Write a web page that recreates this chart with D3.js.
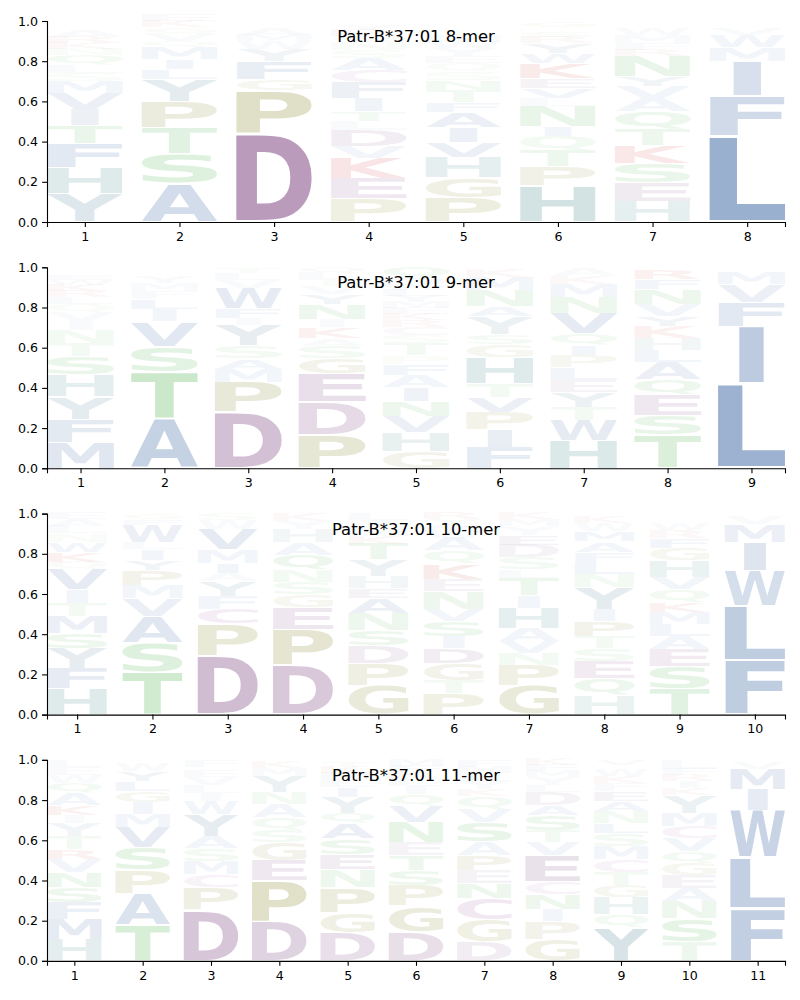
<!DOCTYPE html>
<html><head><meta charset="utf-8">
<script src="https://cdn.jsdelivr.net/npm/d3@7"></script>
<style>body{margin:0;background:#fff}svg{display:block}</style>
</head><body>
<svg id="chart" width="800" height="1000"></svg>
<script>
// ---- data: letters listed bottom-to-top per position, with heights ----
const titles = ["Patr-B*37:01 8-mer","Patr-B*37:01 9-mer","Patr-B*37:01 10-mer","Patr-B*37:01 11-mer"];
const yTicks = [0,0.2,0.4,0.6,0.8,1.0];

const letters8 = ["YHFTIVMSLQNKRAEWC","ASTPYLIMQVGKER","DPGFYWMASK","PEKVDLTIFCASNQRYM",
  "PGHVIAFTNSQEYWMKRDL","HPTQINLVEKWYRSAG","HESKTQAVYNRFMWGL","LFIMWVYA"];
const heights8 = [
  [.14,.13,.12,.09,.08,.08,.06,.04,.04,.05,.03,.03,.03,.03,.02,.02,.01],
  [.19,.15,.13,.13,.11,.05,.05,.06,.03,.04,.03,.03,.03,.02],
  [.44,.215,.055,.09,.06,.04,.03,.03,.02,.02],
  [.115,.10,.10,.06,.08,.045,.05,.065,.08,.06,.06,.04,.04,.03,.03,.025,.02],
  [.12,.10,.10,.075,.075,.075,.05,.06,.05,.045,.04,.035,.04,.03,.03,.02,.02,.015,.015],
  [.18,.095,.08,.07,.05,.10,.04,.05,.05,.075,.05,.05,.03,.03,.02,.03],
  [.10,.095,.095,.09,.08,.09,.065,.06,.05,.10,.03,.035,.04,.03,.02,.02],
  [.43,.20,.17,.07,.06,.03,.02,.02]];

const letters9 = ["MFYHSTNIVQLRKWEPG","ATSVILFMYPGQ","DPMASYIFWVLT","PDEGSAKINYVTLQ",
  "GHVNIAFPTSCRKEMYLWDQ","FIPVTHGSYANMKR","HWTYELPIQVNMKA","TSEQALHKYVNFRM","LIFVMYW"];
const heights9 = [
  [.13,.115,.11,.11,.09,.065,.065,.045,.045,.04,.035,.03,.03,.025,.025,.02,.02],
  [.245,.235,.125,.125,.06,.05,.04,.04,.03,.02,.015,.015],
  [.28,.15,.065,.05,.065,.10,.035,.05,.10,.04,.035,.03],
  [.165,.165,.14,.075,.065,.035,.055,.04,.075,.05,.04,.035,.03,.03],
  [.085,.095,.08,.075,.07,.06,.055,.04,.06,.04,.04,.035,.03,.03,.03,.03,.03,.025,.035,.055],
  [.105,.09,.085,.075,.065,.13,.065,.05,.09,.05,.08,.065,.04,.01],
  [.14,.10,.065,.075,.06,.06,.06,.05,.06,.10,.08,.065,.04,.04],
  [.165,.10,.10,.075,.085,.06,.06,.06,.05,.06,.075,.05,.05,.01],
  [.42,.285,.12,.09,.06,.015,.01]];

const letters10 = ["HFYSMTIVQKWNLAE","TSAVMPYILWFG","DPCFYAIMVWS","DPEGSNQAHYK",
  "GPDSNAEHYTKMIL","PTGDISVNEKQAWMYR","GPNVAHITLSDEYMK","HQESTPIYNLFAMWKR",
  "TSEALMKQVHGFRW","FLWIMVY"];
const heights10 = [
  [.13,.10,.10,.075,.085,.065,.065,.10,.04,.05,.05,.04,.04,.03,.03],
  [.21,.15,.13,.09,.065,.075,.05,.055,.03,.09,.025,.03],
  [.295,.155,.075,.065,.075,.04,.05,.065,.10,.045,.035],
  [.245,.18,.105,.065,.065,.06,.075,.06,.065,.04,.04],
  [.145,.11,.09,.075,.085,.075,.05,.06,.08,.08,.04,.04,.035,.035],
  [.105,.065,.085,.075,.06,.075,.06,.09,.06,.075,.065,.065,.03,.03,.03,.03],
  [.145,.10,.06,.06,.065,.10,.06,.09,.04,.06,.065,.05,.04,.035,.03],
  [.095,.085,.085,.065,.06,.075,.06,.11,.065,.06,.05,.05,.05,.04,.03,.02],
  [.13,.11,.085,.065,.06,.06,.05,.065,.06,.08,.065,.05,.04,.03],
  [.27,.27,.175,.14,.09,.04,.015]];

const letters11 = ["HMFSNVRTYIKAQWEL","TAPSVMIGLYWF","DPCMSAYWILVEGF","DPEGSQANYMKT",
  "DGPNESAQYILMKT","DGPSTENVQILKFM","DGCNEPASVQKYLMF","GPINCEVTSADLYMFK",
  "YQHGTCMSLNAEFKWRV","TSNAEGQVCMYKIRFL","FLWIMVY"];
const heights11 = [
  [.105,.10,.085,.075,.075,.065,.05,.065,.065,.04,.05,.06,.05,.04,.04,.035],
  [.18,.155,.115,.115,.10,.065,.06,.055,.05,.05,.04,.015],
  [.255,.11,.065,.065,.065,.06,.11,.065,.04,.04,.04,.03,.02,.035],
  [.195,.205,.10,.09,.06,.065,.065,.06,.08,.04,.03,.01],
  [.14,.10,.125,.09,.075,.08,.075,.05,.08,.05,.04,.03,.03,.03],
  [.145,.13,.10,.075,.075,.065,.10,.08,.06,.04,.04,.03,.03,.03],
  [.095,.11,.105,.075,.065,.075,.065,.10,.065,.065,.035,.04,.04,.03,.03],
  [.105,.09,.06,.075,.065,.13,.065,.06,.075,.05,.065,.035,.04,.03,.03,.03],
  [.165,.065,.085,.06,.065,.065,.065,.065,.05,.06,.05,.05,.04,.035,.035,.02,.025],
  [.095,.115,.085,.065,.065,.06,.06,.065,.06,.065,.09,.035,.035,.03,.03,.045],
  [.26,.255,.235,.105,.10,.03,.015]];

const panelLetters = [letters8, letters9, letters10, letters11];
const panelHeights = [heights8, heights9, heights10, heights11];

// ---- colours by residue group ----
const groupColor = {
  hydrophobic: "#3b66a3", acidic: "#7c4380", cys: "#964696", pg: "#87872a",
  polar: "#46af46", basic: "#cd2d2d", his: "#327e7e", tyr: "#386e8c"
};
const residueGroup = {A:"hydrophobic",I:"hydrophobic",L:"hydrophobic",M:"hydrophobic",F:"hydrophobic",
  W:"hydrophobic",V:"hydrophobic",D:"acidic",E:"acidic",C:"cys",P:"pg",G:"pg",S:"polar",T:"polar",
  N:"polar",Q:"polar",K:"basic",R:"basic",H:"his",Y:"tyr"};

// ---- layout ----
const left = 47, right = 785, axH = 201, firstTop = 21, step = 246.3;
const FONT = "'DejaVu Sans'";
const svg = d3.select("#chart");

// glyph ink metrics from canvas
const cv = document.createElement("canvas");
const ctx = cv.getContext("2d");
ctx.font = "bold 200px " + FONT;
ctx.textAlign = "left"; ctx.textBaseline = "alphabetic";
const metricCache = {};
function ink(ch){
  if (!metricCache[ch]) {
    const m = ctx.measureText(ch);
    metricCache[ch] = {l: -m.actualBoundingBoxLeft, r: m.actualBoundingBoxRight,
      asc: m.actualBoundingBoxAscent, desc: m.actualBoundingBoxDescent};
  }
  return metricCache[ch];
}
const Eink = ink("E");
const EW = Eink.r - Eink.l;

panelLetters.forEach((cols, p) => {
  const top = firstTop + p * step, bottom = top + axH;
  const L = cols.length;
  const x = d3.scaleLinear().domain([0.6, L + 0.4]).range([left, right]);
  const y = d3.scaleLinear().domain([0, 1]).range([bottom, top]);
  const g = svg.append("g");

  const glyphW = 0.8, vpad = 0.05;
  const glyphs = [];
  cols.forEach((str, i) => {
    const hs = panelHeights[p][i];
    let floor = 0;
    str.split("").forEach((ch, k) => {
      const h = hs[k];
      glyphs.push({ch, pos: i + 1, y0: floor + h * vpad / 2, y1: floor + h - h * vpad / 2, h});
      floor += h;
    });
  });

  g.selectAll("text.glyph").data(glyphs).join("text")
    .attr("class", "glyph")
    .attr("x", 0).attr("y", 0)
    .attr("font-family", "DejaVu Sans").attr("font-weight", "bold").attr("font-size", 200)
    .attr("fill", d => groupColor[residueGroup[d.ch]])
    .attr("fill-opacity", d => Math.min(1, d.h * 1.2))
    .attr("transform", d => {
      const m = ink(d.ch);
      const bx0 = x(d.pos - glyphW / 2), bx1 = x(d.pos + glyphW / 2);
      const bw = bx1 - bx0;
      const iw = m.r - m.l;
      const hsx = Math.min(bw / iw, bw / EW);
      const shift = (bw - hsx * iw) / 2;
      const ytop = y(d.y1), ybot = y(d.y0);
      const vs = (ybot - ytop) / (m.asc + m.desc);
      const tx = bx0 + shift - hsx * m.l;
      const ty = ytop + vs * m.asc;
      return `translate(${tx},${ty}) scale(${hsx},${vs})`;
    })
    .text(d => d.ch);

  // axes
  const yAxis = g.append("g").attr("transform", `translate(${left},0)`)
    .call(d3.axisLeft(y).tickValues(yTicks).tickFormat(d3.format(".1f")).tickSizeOuter(0).tickSize(4.9).tickPadding(4.2));
  const xAxis = g.append("g").attr("transform", `translate(0,${bottom})`)
    .call(d3.axisBottom(x).tickValues(d3.range(1, L + 1)).tickFormat(d3.format("d")).tickSizeOuter(0).tickSize(4.9).tickPadding(5));
  [yAxis, xAxis].forEach(a => {
    a.selectAll("text").attr("font-family", "DejaVu Sans").attr("font-size", 12.6).attr("fill", "#000");
    a.selectAll("line").attr("stroke", "#000").attr("stroke-width", 1.1);
    a.select(".domain").attr("stroke", "#000").attr("stroke-width", 1.1);
  });

  g.append("text").attr("x", (left + right) / 2).attr("y", top + 21)
    .attr("text-anchor", "middle").attr("font-family", "DejaVu Sans").attr("font-size", 16.4)
    .attr("fill", "#000").text(titles[p]);
});
</script>
</body></html>
